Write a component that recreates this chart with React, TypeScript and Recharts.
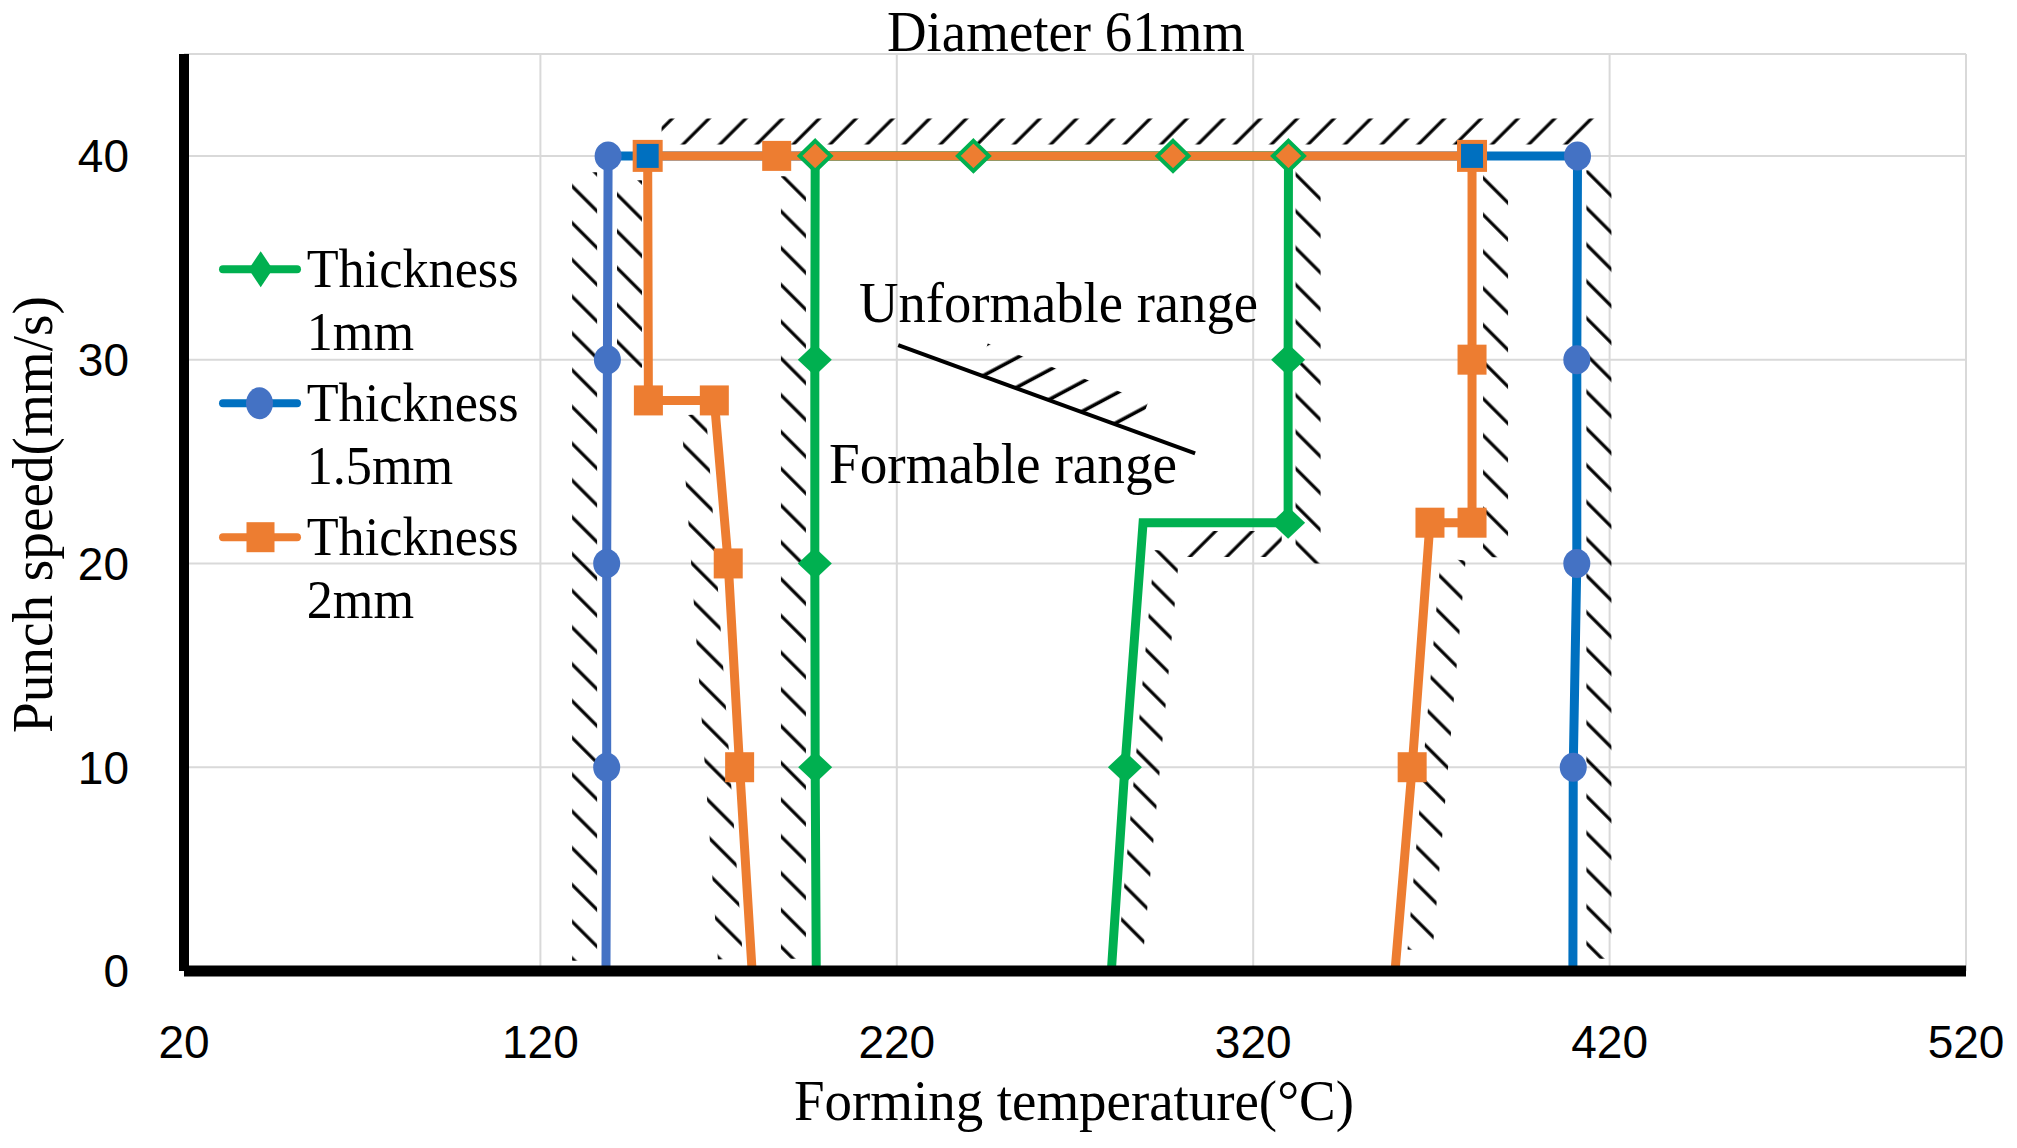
import React from 'react';
import { LineChart, Line, XAxis, YAxis, CartesianGrid, ReferenceLine, Legend } from 'recharts';

const W = 2017;
const H = 1148;

const xTicks = [20, 120, 220, 320, 420, 520];
const yTicks = [0, 10, 20, 30, 40];

// boundary of the formable range (temperature, punch speed)
const thick1mm = [
  { x: 197.4, y: 0 }, { x: 197.1, y: 10 }, { x: 197, y: 20 }, { x: 197, y: 30 }, { x: 197.1, y: 40 },
  { x: 241.5, y: 40 }, { x: 297.5, y: 40 }, { x: 329.9, y: 40 }, { x: 329.8, y: 30 }, { x: 329.8, y: 22 },
  { x: 289.1, y: 22 }, { x: 284, y: 10 }, { x: 280.2, y: 0 },
];
const thick15mm = [
  { x: 138.4, y: 0 }, { x: 138.6, y: 10 }, { x: 138.6, y: 20 }, { x: 138.8, y: 30 }, { x: 139, y: 40 },
  { x: 411, y: 40 }, { x: 410.8, y: 30 }, { x: 410.8, y: 20 }, { x: 409.8, y: 10 }, { x: 409.7, y: 0 },
];
const thick2mm = [
  { x: 179.4, y: 0 }, { x: 175.9, y: 10 }, { x: 172.7, y: 20 }, { x: 168.8, y: 28 }, { x: 150.3, y: 28 },
  { x: 150.1, y: 40 }, { x: 186.3, y: 40 }, { x: 381.4, y: 40 }, { x: 381.4, y: 30 }, { x: 381.4, y: 22 },
  { x: 369.6, y: 22 }, { x: 364.6, y: 10 }, { x: 359.8, y: 0 },
];

// points drawn without a marker, and the 2mm corners drawn with a blue square
const bare1mm = [0, 10, 12];
const bare15mm = [0, 9];
const bare2mm = [0, 12];
const joined2mm = [5, 7];

// hatched strips along the unformable side (centre lines)
const hatchBack = [
  [{ x: 132.4, y: 0.5 }, { x: 132.4, y: 39.2 }],
  [{ x: 145, y: 29.6 }, { x: 145, y: 38.8 }],
  [{ x: 163, y: 27.3 }, { x: 173.3, y: 0.6 }],
  [{ x: 191, y: 0.6 }, { x: 191, y: 39 }],
  [{ x: 335.4, y: 20 }, { x: 335.4, y: 39.4 }],
  [{ x: 295.8, y: 20.6 }, { x: 285.7, y: 1 }],
  [{ x: 388, y: 20.3 }, { x: 388, y: 39.3 }],
  [{ x: 376.1, y: 20.2 }, { x: 366.8, y: 1 }],
  [{ x: 417, y: 0.6 }, { x: 417, y: 39.3 }],
];
const hatchFwd = [
  [{ x: 154, y: 41.2 }, { x: 416, y: 41.2 }],
  [{ x: 300, y: 20.95 }, { x: 328, y: 20.95 }],
];
const noteLine = [{ x: 220.4, y: 30.71 }, { x: 303.7, y: 25.4 }];
const noteHatch = [{ x: 244, y: 30.05 }, { x: 289, y: 27.18 }];

const legendItems = [
  { name: 'Thickness 1mm', color: '#00B050', shape: 'diamond' },
  { name: 'Thickness 1.5mm', color: '#0070C0', shape: 'circle' },
  { name: 'Thickness 2mm', color: '#ED7D31', shape: 'square' },
];

const GREEN = '#00B050';
const ORANGE = '#ED7D31';
const BLUE = '#4472C4';
const BLUE_DARK = '#0070C0';
const serif = '"Liberation Serif", "Times New Roman", serif';
const sans = '"Liberation Sans", Arial, sans-serif';

const diamond = (cx: number, cy: number, w: number, h: number) =>
  `M${cx},${cy - h / 2}L${cx + w / 2},${cy}L${cx},${cy + h / 2}L${cx - w / 2},${cy}Z`;

const greenDot = (p: any) => {
  const { cx, cy, index, payload } = p;
  if (cx == null || bare1mm.includes(index)) return <g key={`gd${index}`} />;
  const top = payload.y === 40;
  return (
    <path
      key={`gd${index}`}
      d={diamond(cx, cy, top ? 31 : 34, top ? 30 : 32)}
      fill={top ? ORANGE : GREEN}
      stroke={top ? GREEN : 'none'}
      strokeWidth={4}
    />
  );
};

const blueDot = (p: any) => {
  const { cx, cy, index } = p;
  if (cx == null || bare15mm.includes(index)) return <g key={`bd${index}`} />;
  return <ellipse key={`bd${index}`} cx={cx} cy={cy} rx={13.5} ry={14.5} fill={BLUE} />;
};

const orangeDot = (p: any) => {
  const { cx, cy, index } = p;
  if (cx == null || bare2mm.includes(index)) return <g key={`od${index}`} />;
  if (joined2mm.includes(index)) {
    return <rect key={`od${index}`} x={cx - 13} y={cy - 14} width={26} height={28} fill={BLUE_DARK} stroke={ORANGE} strokeWidth={4} />;
  }
  return <rect key={`od${index}`} x={cx - 14.5} y={cy - 15} width={29} height={30} fill={ORANGE} />;
};

const LegendBox = () => (
  <svg width={340} height={420} style={{ display: 'block' }}>
    {legendItems.map((it, i) => {
      const base = 56.7 + i * 134;
      const ly = base - 17.5;
      const [first, second] = it.name.split(' ');
      return (
        <g key={it.name}>
          <line x1={13} x2={87} y1={ly} y2={ly} stroke={it.color} strokeWidth={8} strokeLinecap="round" />
          {it.shape === 'diamond' && <path d={diamond(50.7, ly, 24, 36)} fill={it.color} />}
          {it.shape === 'circle' && <ellipse cx={49.5} cy={ly} rx={13.5} ry={16} fill={BLUE} />}
          {it.shape === 'square' && <rect x={36.5} y={ly - 15} width={28} height={30} fill={it.color} />}
          <g transform="translate(96.7,0) scale(0.95,1)">
            <text x={0} y={base} fontFamily={serif} fontSize={55} fill="#000">{first}</text>
            <text x={0} y={base + 63.5} fontFamily={serif} fontSize={55} fill="#000">{second}</text>
          </g>
        </g>
      );
    })}
  </svg>
);

const hatchLine = (key: string, data: any[], pattern: string, width: number) => (
  <Line
    key={key}
    data={data}
    dataKey="y"
    stroke={`url(#${pattern})`}
    strokeWidth={width}
    strokeLinecap="butt"
    dot={false}
    activeDot={false}
    legendType="none"
    isAnimationActive={false}
  />
);

export default function App() {
  const tick = { fill: '#000', fontSize: 46, fontFamily: sans };
  return (
    <div style={{ position: 'absolute', left: 0, top: 0, width: W, height: H, background: '#fff' }}>
      <LineChart width={W} height={H} margin={{ top: 54, right: 51, left: 0, bottom: 0 }}>
        <defs>
          <pattern id="hatchBack" patternUnits="userSpaceOnUse" width={26} height={26} patternTransform="rotate(45)">
            <rect x={0} y={11.5} width={26} height={3.2} fill="#000" />
          </pattern>
          <pattern id="hatchFwd" patternUnits="userSpaceOnUse" width={26} height={26} patternTransform="rotate(-45)">
            <rect x={0} y={11.5} width={26} height={3.2} fill="#000" />
          </pattern>
          <pattern id="hatchNote" patternUnits="userSpaceOnUse" width={26} height={26} patternTransform="rotate(-28)">
            <rect x={0} y={11.5} width={26} height={3.6} fill="#000" />
          </pattern>
          <linearGradient id="blueStroke" gradientUnits="userSpaceOnUse" x1={0} y1={0} x2={W} y2={0}>
            <stop offset={0.304} stopColor={BLUE} />
            <stop offset={0.304} stopColor={BLUE_DARK} />
          </linearGradient>
        </defs>
        <CartesianGrid stroke="#d9d9d9" strokeWidth={2} />
        <XAxis
          type="number"
          dataKey="x"
          domain={[20, 520]}
          ticks={xTicks}
          interval={0}
          allowDataOverflow
          height={177}
          axisLine={{ stroke: '#000', strokeWidth: 11 }}
          tickLine={false}
          tickSize={0}
          tickMargin={54}
          tick={tick}
        />
        <YAxis
          type="number"
          dataKey="y"
          domain={[0, 45]}
          ticks={yTicks}
          interval={0}
          allowDataOverflow
          width={184}
          axisLine={{ stroke: '#000', strokeWidth: 10 }}
          tickLine={false}
          tickSize={0}
          tickMargin={55}
          tick={tick}
        />
        {hatchBack.map((seg, i) => hatchLine(`hb${i}`, seg, 'hatchBack', 25))}
        {hatchFwd.map((seg, i) => hatchLine(`hf${i}`, seg, 'hatchFwd', 26))}
        {hatchLine('hn', noteHatch, 'hatchNote', 32)}
        <ReferenceLine segment={noteLine} stroke="#000" strokeWidth={4} />
        <Line
          data={thick15mm}
          dataKey="y"
          name="Thickness 1.5mm"
          stroke="url(#blueStroke)"
          strokeWidth={9}
          dot={blueDot}
          activeDot={false}
          isAnimationActive={false}
        />
        <Line
          data={thick1mm}
          dataKey="y"
          name="Thickness 1mm"
          stroke={GREEN}
          strokeWidth={9}
          dot={false}
          activeDot={false}
          isAnimationActive={false}
        />
        <Line
          data={thick2mm}
          dataKey="y"
          name="Thickness 2mm"
          stroke={ORANGE}
          strokeWidth={9}
          dot={orangeDot}
          activeDot={false}
          isAnimationActive={false}
        />
        <Line
          data={thick1mm}
          dataKey="y"
          stroke="none"
          strokeWidth={0}
          dot={greenDot}
          activeDot={false}
          legendType="none"
          isAnimationActive={false}
        />
        <Legend
          layout="horizontal"
          verticalAlign="middle"
          align="center"
          content={() => <LegendBox />}
          wrapperStyle={{ left: 210, top: 230, width: 340, height: 420 }}
        />
      </LineChart>
      <svg
        width={W}
        height={H}
        style={{ position: 'absolute', left: 0, top: 0, pointerEvents: 'none' }}
      >
        <text x={1066} y={51} textAnchor="middle" fontFamily={serif} fontSize={56} textLength={358} lengthAdjust="spacingAndGlyphs">
          Diameter 61mm
        </text>
        <text x={1074} y={1120} textAnchor="middle" fontFamily={serif} fontSize={56} textLength={560} lengthAdjust="spacingAndGlyphs">
          Forming temperature(°C)
        </text>
        <text
          x={0}
          y={0}
          transform="translate(52,514.5) rotate(-90)"
          textAnchor="middle"
          fontFamily={serif}
          fontSize={56}
          textLength={437}
          lengthAdjust="spacingAndGlyphs"
        >
          Punch speed(mm/s)
        </text>
        <text x={859} y={321.7} fontFamily={serif} fontSize={56} textLength={399} lengthAdjust="spacingAndGlyphs">
          Unformable range
        </text>
        <text x={829} y={483.3} fontFamily={serif} fontSize={56} textLength={348} lengthAdjust="spacingAndGlyphs">
          Formable range
        </text>
      </svg>
    </div>
  );
}
